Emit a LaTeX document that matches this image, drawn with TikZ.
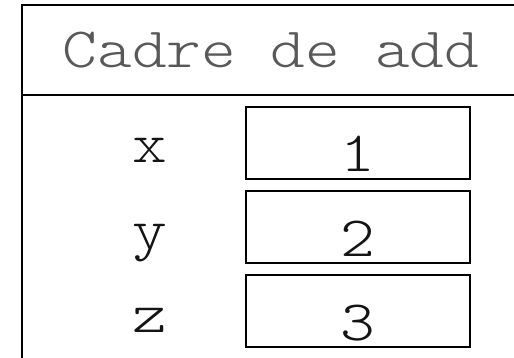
\documentclass[tikz,border=0pt]{standalone}
\usepackage{fontspec}
\newfontfamily\courlike[FakeStretch=1.16]{Latin Modern Mono Light}
\begin{document}
\begin{tikzpicture}[x=1pt,y=-1pt,
  frameline/.style={line width=2pt,black},
  valbox/.style={draw=black,line width=1.8pt,minimum width=224pt,minimum height=72pt,inner sep=0pt},
  bigtxt/.style={font=\courlike\fontsize{57}{57}\selectfont,inner sep=0pt,anchor=base},
  title/.style={bigtxt,text=black!65},
  vartxt/.style={bigtxt,text=black!92}]
\useasboundingbox (0,0) rectangle (514,358);
\clip (0,0) rectangle (514,358);
\coordinate (tl) at (22,5);
\coordinate (tr) at (530,5);
\coordinate (bl) at (22,370);
\coordinate (hl) at (22,95);
\coordinate (hr) at (530,95);
\draw[frameline] (bl) -- (tl) -- (tr);
\draw[frameline] (hl) -- (hr);
\node[title] (t) at (271,68) {Cadre de add};
\node[valbox] (b1) at (358,143) {};
\node[valbox] (b2) at (358,227) {};
\node[valbox] (b3) at (358,311) {};
\node[vartxt] (v1) at (150,163) {x};
\node[vartxt] (v2) at (150,248) {y};
\node[vartxt] (v3) at (150,332) {z};
\node[vartxt] (n1) at (358,172) {1};
\node[vartxt] (n2) at (358,256) {2};
\node[vartxt] (n3) at (358,340) {3};
\end{tikzpicture}
\end{document}
